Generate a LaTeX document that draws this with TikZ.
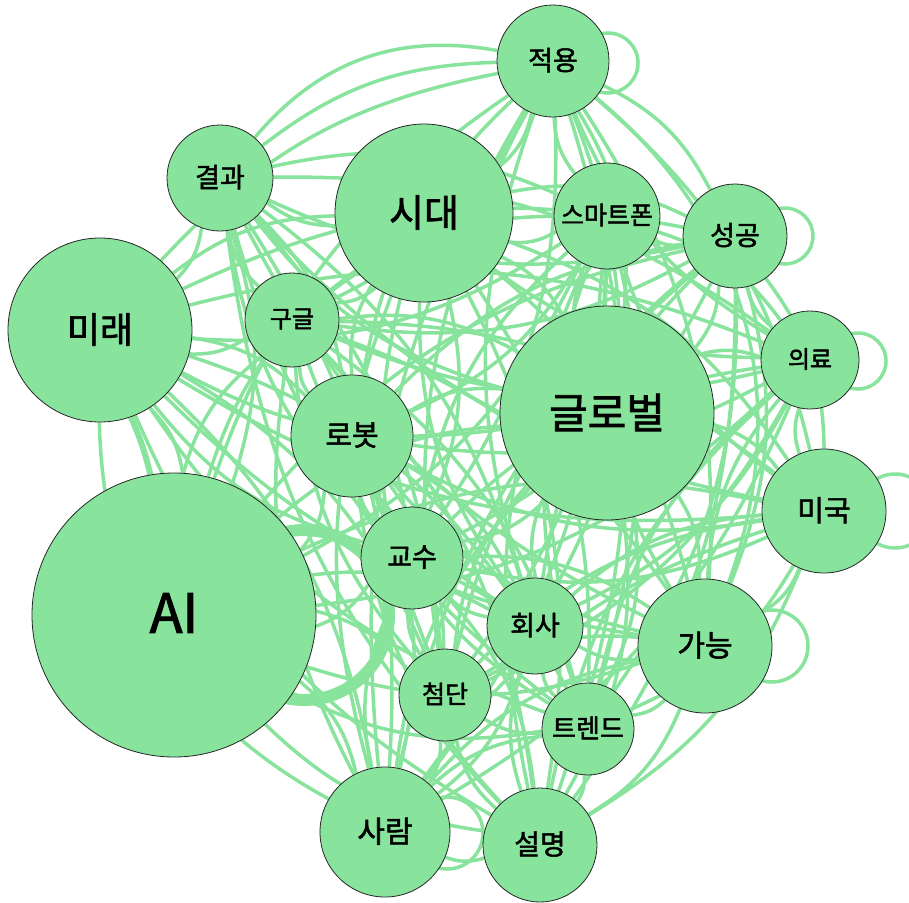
\documentclass[tikz,border=0pt]{standalone}
\usepackage{fontspec}
\newfontfamily\kr[FakeBold=1.8]{Noto Sans CJK KR}
\pgfdeclarelayer{edges}
\pgfsetlayers{edges,main}
\definecolor{leaf}{HTML}{88E49C}
\tikzset{
  word/.style={circle, fill=leaf, draw=black!85, line width=0.8pt, inner sep=0pt},
  link/.style={draw=leaf, line width=3.5pt},
  selfloop/.style={draw=leaf, line width=3.5pt},
}
\begin{document}
\begin{tikzpicture}[x=1pt,y=-1pt]
\useasboundingbox (0,0) rectangle (909,902);
\clip (0,0) rectangle (909,902);

% word nodes: index / x / y / radius / font size / label
\foreach \n/\x/\y/\r/\s/\t in {
  1/553/61/56/27/적용,
  2/220/178/53/27/결과,
  3/424/213/89/38/시대,
  4/607/216/53/25/스마트폰,
  5/735/236/52/27/성공,
  6/100/330/92/36/미래,
  7/292/320/47/24/구글,
  8/810/360/49/24/의료,
  9/607/413/107/42/글로벌,
  10/352/436/61/29/로봇,
  11/824/511/62/29/미국,
  12/174/615/142/54/AI,
  13/412/558/51/27/교수,
  14/535/626/48/27/회사,
  15/705/646/67/30/가능,
  16/445/695/46/25/첨단,
  17/588/729/46/26/트렌드,
  18/385/832/65/30/사람,
  19/540/845/57/28/설명}
{
  \node[word, minimum size=2*\r pt, font=\kr\fontsize{\s}{\s}\selectfont] (n\n) at (\x,\y) {\raisebox{4pt}{\t}};
}

\begin{pgfonlayer}{edges}
  % co-occurrence links between every pair of words
  \foreach \i in {1,...,19}{
    \foreach \j in {\i,...,19}{
      \ifnum\i<\j
        \pgfmathsetmacro\bnd{mod(\i+\j,2)==0 ? 18 : -18}
        \draw[link] (n\i) to[bend left=\bnd] (n\j);
      \fi
    }
  }
  % wide outer arcs
  \draw[link] (n2) to[bend left=30] (n1);
  \draw[link] (n1) to[bend left=35] (n15);
  \draw[link] (n6) to[bend right=30] (n18);
  \draw[link, line width=6pt] (n6) to[bend left=5] (n12);
  % self loops
  \draw[selfloop] ([shift={(55,2)}]n1.center) circle[radius=30];
  \draw[selfloop] ([shift={(50,0)}]n5.center) circle[radius=28];
  \draw[selfloop] ([shift={(48,1)}]n8.center) circle[radius=28];
  \draw[selfloop] ([shift={(71,0)}]n11.center) circle[radius=37];
  \draw[selfloop] ([shift={(67,0)}]n15.center) circle[radius=36];
  \draw[selfloop] ([shift={(62,1)}]n18.center) circle[radius=36];
  \draw[selfloop, line width=12pt] ([shift={(130,0)}]n12.center) circle[radius=85];
\end{pgfonlayer}
\end{tikzpicture}
\end{document}
